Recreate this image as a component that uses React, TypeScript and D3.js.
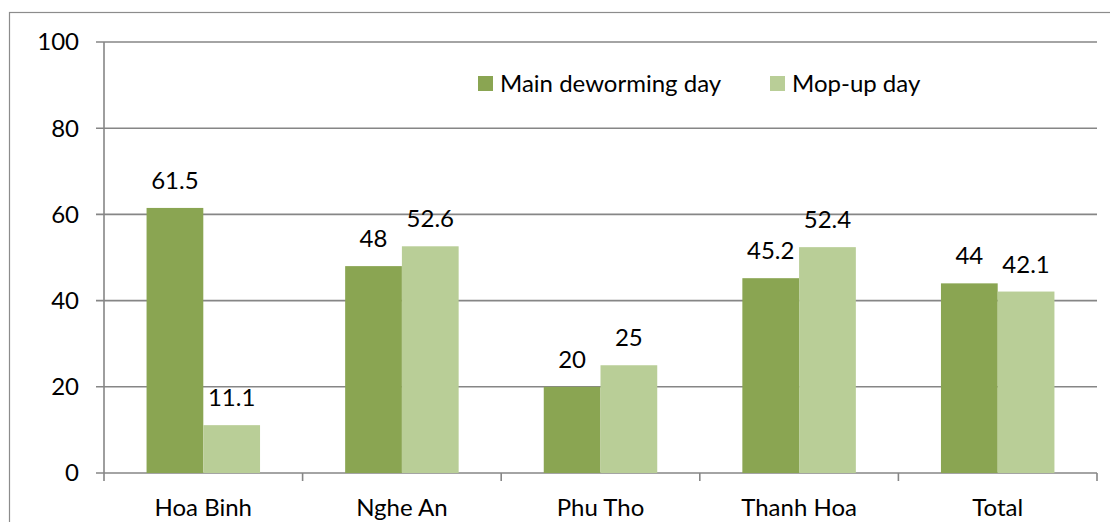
import React from "react";
import * as d3 from "d3";

const categories = ["Hoa Binh", "Nghe An", "Phu Tho", "Thanh Hoa", "Total"];
const seriesNames = ["Main deworming day", "Mop-up day"];
const mainValues = [61.5, 48, 20, 45.2, 44];
const mopupValues = [11.1, 52.6, 25, 52.4, 42.1];
const yTicks = [0, 20, 40, 60, 80, 100];
const colors = ["#8aa552", "#b9ce97"];

const W = 1110;
const H = 522;
const left = 104;
const right = 1097;
const top = 42;
const bottom = 473;
const FONT = "Lato, 'Open Sans', sans-serif";
const FS = 24;

export default function App() {
  const x = d3.scaleBand<string>().domain(categories).range([left, right]).paddingInner(0).paddingOuter(0);
  const bw = x.bandwidth();
  const barW = bw / 3.5;
  const y = d3.scaleLinear().domain([0, 100]).range([bottom, top]);
  const series = [mainValues, mopupValues];
  const grey = "#868686";

  return (
    <svg width={W} height={H} style={{ position: "absolute", left: 0, top: 0, display: "block" }} fontFamily={FONT}>
      <rect x={0} y={0} width={W} height={H} fill="#fff" />
      <rect x={9.5} y={12.5} width={1300} height={700} fill="none" stroke="#8c8c8c" strokeWidth={1.2} />
      {yTicks.map((t) => (
        <g key={t}>
          <line x1={left - 8} x2={right} y1={y(t)} y2={y(t)} stroke={grey} strokeWidth={1.6} />
          <text x={79} y={y(t)} dy="0.35em" textAnchor="end" fontSize={FS} fill="#000">
            {t}
          </text>
        </g>
      ))}
      <line x1={left} x2={left} y1={top} y2={bottom + 8} stroke={grey} strokeWidth={1.6} />
      {categories.map((c, i) => (
        <line key={"t" + i} x1={x(c)! + bw} x2={x(c)! + bw} y1={bottom} y2={bottom + 8} stroke={grey} strokeWidth={1.6} />
      ))}
      {series.map((vals, s) =>
        vals.map((v, i) => {
          const bx = x(categories[i])! + (bw - 2 * barW) / 2 + s * barW;
          return (
            <g key={s + "-" + i}>
              <rect x={bx} y={y(v)} width={barW} height={bottom - y(v)} fill={colors[s]} />
              <text x={bx + barW / 2} y={y(v) - 19} textAnchor="middle" fontSize={FS} fill="#000">
                {v}
              </text>
            </g>
          );
        })
      )}
      {categories.map((c) => (
        <text key={c} x={x(c)! + bw / 2} y={508} dy="0.35em" textAnchor="middle" fontSize={FS} fill="#000">
          {c}
        </text>
      ))}
      {seriesNames.map((n, i) => {
        const lx = [478, 770][i];
        return (
          <g key={n}>
            <rect x={lx} y={76} width={15} height={15} fill={colors[i]} />
            <text x={lx + 22} y={83.5} dy="0.35em" fontSize={FS} fill="#000">
              {n}
            </text>
          </g>
        );
      })}
    </svg>
  );
}
